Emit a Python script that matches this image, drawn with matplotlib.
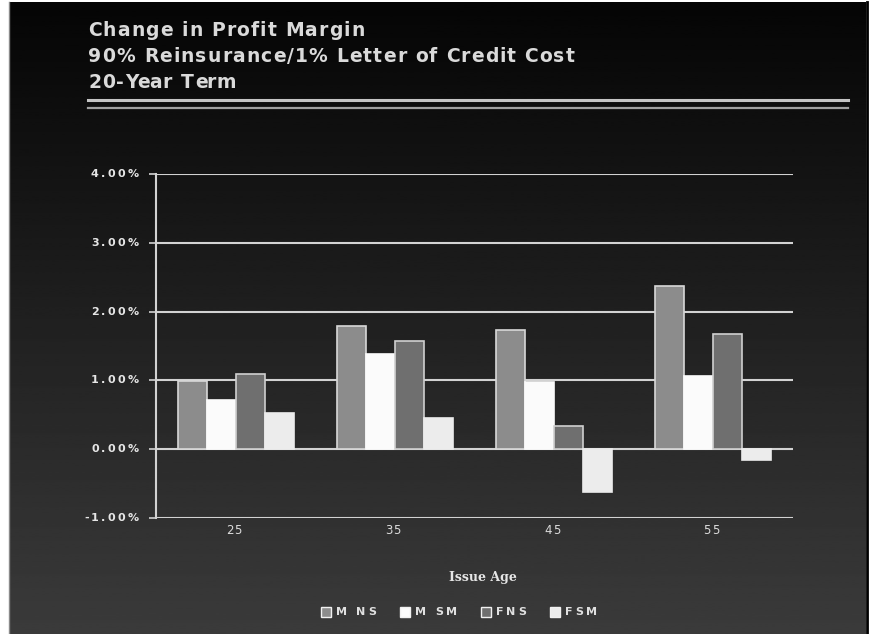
import numpy as np
import matplotlib
matplotlib.use("Agg")
import matplotlib.pyplot as plt
from matplotlib.patches import Rectangle
from matplotlib.lines import Line2D
from matplotlib.font_manager import FontProperties

# Chart data
issue_ages = ["25", "35", "45", "55"]
series_names = ["M NS", "M SM", "FNS", "FSM"]
m_ns = [0.99, 1.79, 1.73, 2.37]
m_sm = [0.72, 1.38, 0.97, 1.06]
f_ns = [1.10, 1.57, 0.33, 1.67]
f_sm = [0.53, 0.46, -0.62, -0.16]
y_ticks = [-1, 0, 1, 2, 3, 4]
title_lines = ["Change in Profit Margin",
               "90% Reinsurance/1% Letter of Credit Cost",
               "20-Year Term"]

W, H = 874, 634
fig = plt.figure(figsize=(W / 100, H / 100), dpi=100, facecolor="white")
renderer = fig.canvas.get_renderer()


def text_width(s, fp):
    full = renderer.get_text_width_height_descent(s + "|", fp, ismath=False)[0]
    bar = renderer.get_text_width_height_descent("|", fp, ismath=False)[0]
    return full - bar


def tracked_text(x, y, s, size, track, ha="left", weight="normal",
                 color="#e0e0e0", family="DejaVu Sans"):
    """Draw a string with extra letter spacing; x, y in pixels from top-left."""
    fp = FontProperties(family=family, size=size, weight=weight)
    total = text_width(s, fp) + track * (len(s) - 1)
    start = x - total * {"left": 0.0, "center": 0.5, "right": 1.0}[ha]
    for i, ch in enumerate(s):
        if ch == " ":
            continue
        off = text_width(s[:i], fp) + track * i
        fig.text((start + off) / W, 1 - y / H, ch, fontproperties=fp,
                 ha="left", va="center", color=color)
    return total


# dark panel with vertical gradient
bg = fig.add_axes([9 / W, 0, (866 - 9) / W, (H - 2) / H])
grad = np.linspace(0.02, 0.23, 256).reshape(-1, 1)
bg.imshow(grad, aspect="auto", cmap="gray", vmin=0, vmax=1,
          extent=[0, 1, 0, 1], origin="upper")
bg.set_axis_off()
fig.add_artist(Line2D([866.5 / W, 866.5 / W], [0, 1 - 2 / H], color="black", lw=2))
fig.add_artist(Line2D([8.5 / W, 8.5 / W], [0, 1 - 2 / H], color="#8a8a8a", lw=1))

# title block
for i, line in enumerate(title_lines):
    tracked_text(88, 30 + 26 * i, line, 13.5, 1.1, weight="bold", color="#dadada")
fig.add_artist(Line2D([88 / W, 848 / W], [1 - 100 / H] * 2, color="#c4c4c4", lw=2.2))
fig.add_artist(Line2D([88 / W, 848 / W], [1 - 108 / H] * 2, color="#a0a0a0", lw=1.6))

# plot area
left, right, top, bottom = 156, 793, 174, 518
ax = fig.add_axes([left / W, 1 - bottom / H, (right - left) / W, (bottom - top) / H])
ax.set_facecolor("none")
ax.set_xlim(0, 4)
ax.set_ylim(-1, 4)

grid_c = "#d2d2d2"
for t in y_ticks:
    ax.axhline(t, color=grid_c, lw=1.5, zorder=1)

x = np.arange(len(issue_ages)) + 0.5
w = 0.182
colors = ["#8c8c8c", "#fbfbfb", "#6f6f6f", "#ececec"]
edges = ["#d8d8d8", "#fbfbfb", "#d0d0d0", "#ececec"]
for k, vals in enumerate([m_ns, m_sm, f_ns, f_sm]):
    ax.bar(x + (k - 1.5) * w, vals, width=w, color=colors[k],
           edgecolor=edges[k], linewidth=1.2, zorder=3)

for s in ["top", "right", "bottom"]:
    ax.spines[s].set_visible(False)
ax.spines["left"].set_color(grid_c)
ax.spines["left"].set_linewidth(1.5)
ax.set_yticks(y_ticks)
ax.set_yticklabels([])
ax.tick_params(axis="y", colors=grid_c, length=5, width=1.2)
ax.set_xticks(x)
ax.set_xticklabels([])
ax.tick_params(axis="x", length=0)

# tick labels with letter spacing, positioned through the axes transform
to_px = ax.transData
for t in y_ticks:
    _, py = to_px.transform((0, t))
    tracked_text(139, H - py, f"{t:.2f}%", 8, 2.4, ha="right",
                 weight="bold", color="#e6e6e6")
for xi, lab in zip(x, issue_ages):
    px, _ = to_px.transform((xi, 0))
    tracked_text(px - 2, 531, lab, 8.5, 1.0, ha="center", color="#dcdcdc")

fig.text(483 / W, 1 - 578 / H, "Issue Age", color="#e6e6e6", fontsize=9,
         fontweight="bold", family="DejaVu Serif", ha="center", va="center")

# legend drawn as patches plus spaced labels
leg_fp = FontProperties(family="DejaVu Sans", size=8, weight="bold")
leg_track, patch_sz, patch_gap, item_gap = 2.6, 10, 5, 24
widths = [text_width(n, leg_fp) + leg_track * (len(n) - 1) for n in series_names]
total = sum(patch_sz + patch_gap + wd for wd in widths) + item_gap * (len(widths) - 1)
cx = 459 - total / 2
ly = 612
for k, name in enumerate(series_names):
    fig.add_artist(Rectangle((cx / W, 1 - (ly + patch_sz / 2) / H),
                             patch_sz / W, patch_sz / H, facecolor=colors[k],
                             edgecolor="#f0f0f0", lw=1, transform=fig.transFigure))
    tracked_text(cx + patch_sz + patch_gap, ly, name, 8, leg_track,
                 weight="bold", color="#e0e0e0")
    cx += patch_sz + patch_gap + widths[k] + item_gap

fig.savefig("out.png", dpi=100, facecolor=fig.get_facecolor())
